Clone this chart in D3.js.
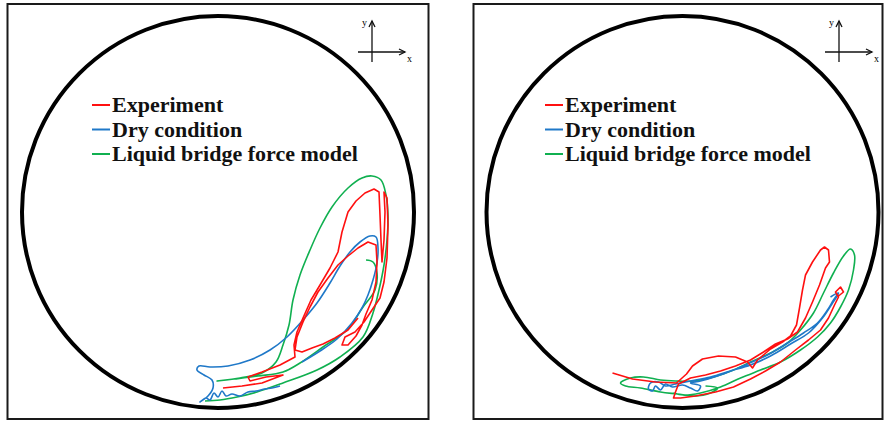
<!DOCTYPE html>
<html>
<head>
<meta charset="utf-8">
<script src="https://cdn.jsdelivr.net/npm/d3@7"></script>
<style>
body{margin:0;background:#fff;}
svg{display:block;}
</style>
</head>
<body>
<svg id="chart"></svg>
<script>
// drum coordinates: origin at drum centre, y up, drum radius 98
let drumRadius = 98;
let seriesNames = ["Experiment", "Dry condition", "Liquid bridge force model"];
let seriesColors = ["#ff1010", "#1f78c8", "#10b050"];

let leftExperiment = [
    [2.5,-88],[12,-87],[22,-85.5],[32.5,-81.5],[24,-82.5],[16,-84.5],[15,-82.5],[22,-80],[31,-76.5],
    [38.5,-72.5],[38,-66.5],[39.5,-60],[42.5,-53],[46.5,-44],[51,-36.5],[56,-28],[60,-20],[62,-10],
    [65,0],[69,5.5],[73.5,9.5],[78,11.5],[80.5,10],[81,-1.5],[81.5,-14],[82,-25],[83,-14],[83.5,0],
    [83,10],[84.5,7],[85,-6.5],[84.5,-23],[83,-35],[81,-43],[77,-49],[73,-55],[68.5,-60],[63.5,-62.5],
    [62,-66.5],[65,-66.5],[69,-62],[72,-56.5],[74,-51],[77,-44],[79,-35],[79.5,-25],[79,-16.5],
    [75,-15],[70,-18],[65,-22],[60,-26.5],[55,-33],[50,-40],[46,-47.5],[42.5,-55],[39.5,-62.5],
    [38.5,-69],[42,-70],[47,-68],[52.5,-66],[58.5,-63],[65,-59],[70,-53]
];
let leftDry = [
    [31,-87],[27,-88],[23.5,-88.5],[19,-89.5],[15,-90],[11,-92],[7,-91],[4,-92],[2,-89.5],[0,-92.5],
    [-2,-90.5],[-4,-94],[-6,-93],[-9,-95],[-5,-92],[-2.5,-88],[-3,-84],[-7,-81.5],[-10.5,-79],
    [-9.5,-77],[-4,-77.5],[5,-77],[16,-74],[26,-69],[34.5,-62.5],[42.5,-54],[49.5,-45.5],[56,-35.5],
    [61,-27],[66,-20],[71,-15],[76,-12],[79,-12.5],[80,-18],[79.5,-25.5],[77.5,-34],[75,-41.5],
    [72,-48],[67,-55.5],[59.5,-63.5],[51,-69.5],[42,-75]
];
let leftLiquid = [
    [74,-24],[77.5,-25],[79.5,-30.5],[78.5,-39],[72.5,-47.5],[64.5,-59],[52.5,-67.5],[41,-75.5],
    [32.5,-80],[20,-82],[8,-83.5],[-0.5,-84.5],[11,-83],[22,-80.5],[29,-75],[32.5,-66.5],[35.5,-56.5],
    [37.5,-44],[41,-31.5],[46,-19],[51,-8],[57,2.5],[65,12],[72,17],[77,18],[81.5,16],[84,8.5],
    [85,-1.5],[84.5,-14],[83,-26.5],[80.5,-39],[77.5,-50.5],[72.5,-62.5],[61,-72.5],[49.5,-79],
    [32.5,-85.5],[19.5,-90],[9.5,-92.5],[1,-94],[-6.5,-94.5]
];

let rightExperiment = [
    [-35,-80.5],[-25,-83.5],[-13.5,-85],[-3,-85.5],[2,-81],[5,-77],[10,-73.5],[18,-72],[26.5,-72.5],
    [32.5,-75],[35,-78],[37.5,-74],[44,-68.5],[50,-65],[54,-62],[57,-56.5],[58.5,-48],[60,-39],
    [61.5,-31.5],[65,-25],[69,-19],[71,-17.5],[73,-19],[73.5,-25],[71.5,-28],[68.5,-36.5],[65,-45],
    [61.5,-53],[57.5,-60],[52.5,-63.5],[46.5,-66],[40.5,-70],[34,-74],[26.5,-77],[19,-79.5],
    [11.5,-81.5],[4,-83],[-2,-86],[-3.5,-90],[-4.5,-93],[-1,-93],[6.5,-92],[16.5,-90],[25.5,-87.5],
    [34,-83.5],[41.5,-79.5],[49,-75],[56.5,-69],[63,-64],[69,-59],[73,-53],[76,-46.5],[78,-42.5],
    [76.5,-40],[79,-37.5],[80.5,-40],[78,-42]
];
let rightDry = [
    [78,-40.5],[75.5,-44],[72.5,-49],[67.5,-55.5],[60.5,-60.5],[52.5,-65.5],[42.5,-71.5],[32.5,-76],
    [25.5,-79],[17.5,-82],[9,-84.5],[4,-85.5],[9,-87],[7.5,-89.5],[4,-88],[0,-86.5],[-5,-87.5],
    [-8.5,-86],[-11,-89],[-13.5,-87],[-15,-89.5],[-17,-88.5],[-16,-85.5],[-12,-85],[-8.5,-87],
    [-3.5,-86],[4,-84.5],[14,-82.5],[24,-79.5],[34,-76.5],[44,-72],[54,-66],[63,-60.5],[70,-53],
    [75,-45.5],[78,-40.5],[74,-42.5]
];
let rightLiquid = [
    [-4.5,-90.5],[0.5,-91.5],[9,-90.5],[19,-87.5],[29,-83],[39,-79],[49,-75],[59,-69],[67.5,-62.5],
    [74,-55.5],[79,-47.5],[83,-39],[85.5,-29],[86,-21.5],[84,-18.5],[80.5,-22],[75.5,-30.5],
    [70.5,-40.5],[65.5,-50.5],[59,-59],[52.5,-65.5],[44,-70.5],[34,-75],[25.5,-79],[15.5,-82.5],
    [5.5,-84.5],[-3.5,-84.5],[-11,-84],[-19.5,-82.5],[-26,-83],[-31,-85.5],[-28.5,-87],[-21,-88],
    [-11,-90],[-2.5,-91],[5.5,-92],[14,-90.5],[17.5,-88],[11.5,-87]
];

function getChartConfig(){
    let width = 885;
    let height = 423;
    let container = d3.select("#chart")
        .attr("width", width)
        .attr("height", height);
    let panels = [
        {box: {x: 7.5, y: 4, w: 421, h: 415}, cx: 218, cy: 212, r: 196, legendX: 92, axisX: 372,
         series: [leftExperiment, leftDry, leftLiquid]},
        {box: {x: 473.5, y: 4, w: 409, h: 415}, cx: 682.5, cy: 212, r: 196, legendX: 545, axisX: 839,
         series: [rightExperiment, rightDry, rightLiquid]}
    ];
    return {width, height, container, panels};
}

function drawPanel(container, panel){
    let g = container.append("g");
    let xScale = d3.scaleLinear()
        .domain([-drumRadius, drumRadius])
        .range([panel.cx - panel.r, panel.cx + panel.r]);
    let yScale = d3.scaleLinear()
        .domain([-drumRadius, drumRadius])
        .range([panel.cy + panel.r, panel.cy - panel.r]);

    g.append("rect")
        .attr("x", panel.box.x)
        .attr("y", panel.box.y)
        .attr("width", panel.box.w)
        .attr("height", panel.box.h)
        .attr("fill", "none")
        .attr("stroke", "#1a1a1a")
        .attr("stroke-width", 2);

    g.append("circle")
        .attr("cx", xScale(0))
        .attr("cy", yScale(0))
        .attr("r", xScale(drumRadius) - xScale(0))
        .attr("fill", "none")
        .attr("stroke", "#000")
        .attr("stroke-width", 4);

    // measured track is jagged, simulated tracks are smooth
    let curves = [d3.curveLinear, d3.curveCatmullRom.alpha(0.5), d3.curveCatmullRom.alpha(0.5)];

    [2, 1, 0].forEach(i => {
        let line = d3.line()
            .x(d => xScale(d[0]))
            .y(d => yScale(d[1]))
            .curve(curves[i]);
        g.append("path")
            .datum(panel.series[i])
            .attr("d", line)
            .attr("fill", "none")
            .attr("stroke", seriesColors[i])
            .attr("stroke-width", 1.6)
            .attr("stroke-linejoin", "round");
    });

    legend(g, panel);
    axisMark(g, panel.axisX);
}

function legend(g, panel){
    let rows = g.append("g").selectAll("g")
        .data(seriesNames)
        .enter().append("g")
        .attr("transform", (d, i) => "translate(" + panel.legendX + "," + (112 + i * 24.5) + ")");
    rows.append("line")
        .attr("x1", 0).attr("x2", 18)
        .attr("y1", -7).attr("y2", -7)
        .attr("stroke", (d, i) => seriesColors[i])
        .attr("stroke-width", 2);
    rows.append("text")
        .attr("x", 20)
        .attr("y", 0)
        .text(d => d)
        .style("font-family", "'Liberation Serif','Times New Roman',serif")
        .style("font-weight", "bold")
        .style("font-size", "22px")
        .style("fill", "#111");
}

function axisMark(g, ax){
    let s = g.append("g")
        .attr("stroke", "#111")
        .attr("stroke-width", 1.3)
        .attr("fill", "none");
    s.append("line").attr("x1", ax).attr("x2", ax).attr("y1", 21).attr("y2", 62);
    s.append("line").attr("x1", ax - 14).attr("x2", ax + 33).attr("y1", 52).attr("y2", 52);
    s.append("polyline").attr("points", [[ax - 3, 27], [ax, 21], [ax + 3, 27]].join(" "));
    s.append("polyline").attr("points", [[ax + 27, 49], [ax + 33, 52], [ax + 27, 55]].join(" "));
    g.append("text")
        .attr("x", ax - 10).attr("y", 26)
        .text("y")
        .style("font-family", "'Liberation Serif',serif")
        .style("font-size", "10px");
    g.append("text")
        .attr("x", ax + 35).attr("y", 62)
        .text("x")
        .style("font-family", "'Liberation Serif',serif")
        .style("font-size", "10px");
}

let config = getChartConfig();
config.panels.forEach(p => drawPanel(config.container, p));
</script>
</body>
</html>
